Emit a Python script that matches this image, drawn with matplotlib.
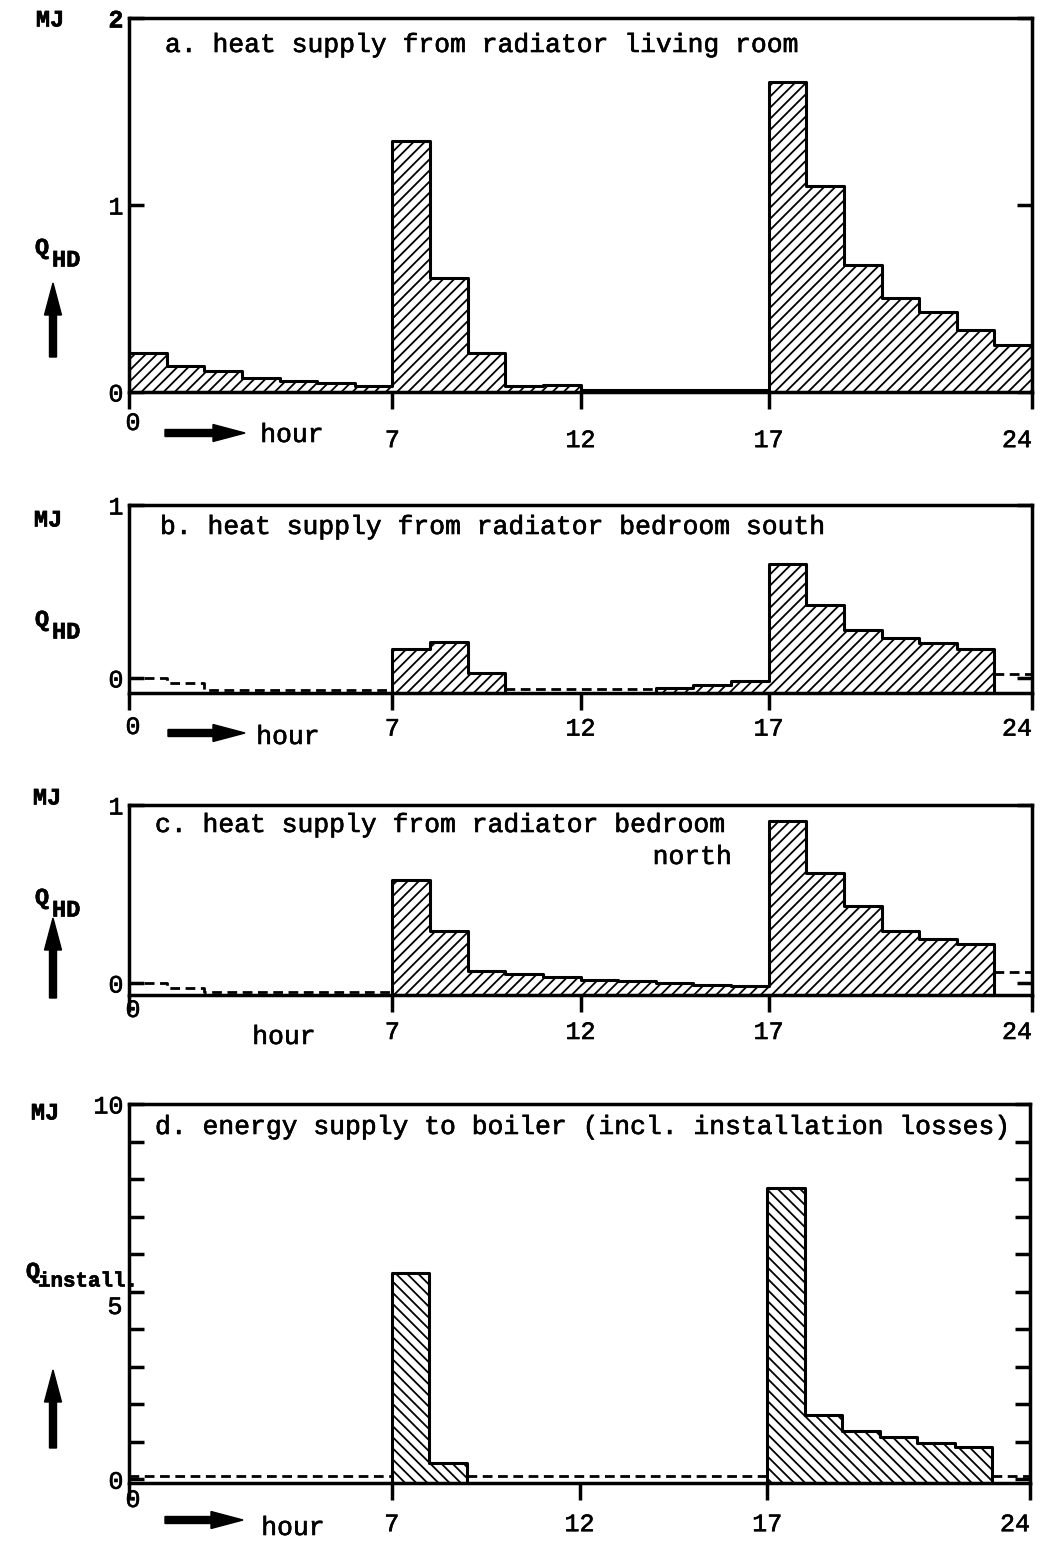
import numpy as np
import matplotlib.pyplot as plt
import matplotlib.patheffects as pe
from matplotlib.patches import FancyArrow

plt.rcParams['hatch.linewidth'] = 1.3
MONO = 'Liberation Mono'
INK = [pe.withStroke(linewidth=0.45, foreground='black')]

# hourly energy per hour of the day (MJ)
hours = np.arange(24)
living = [0.21, 0.14, 0.11, 0.075, 0.06, 0.05, 0.03, 1.34, 0.61, 0.21, 0.03, 0.04,
          0.01, 0.01, 0.01, 0.01, 0.01, 1.66, 1.10, 0.68, 0.50, 0.43, 0.33, 0.25]
south = [0.0, -0.03, -0.07, -0.07, -0.07, -0.07, -0.07, 0.17, 0.21, 0.03, -0.065, -0.065,
         -0.065, -0.065, -0.06, -0.04, -0.02, 0.66, 0.42, 0.28, 0.23, 0.20, 0.17, 0.02]
south_on = [0, 0, 0, 0, 0, 0, 0, 1, 1, 1, 0, 0, 0, 0, 1, 1, 1, 1, 1, 1, 1, 1, 1, 0]
north = [0.0, -0.03, -0.05, -0.05, -0.05, -0.05, -0.05, 0.58, 0.29, 0.07, 0.05, 0.035,
         0.02, 0.01, 0.0, -0.01, -0.015, 0.91, 0.62, 0.43, 0.29, 0.25, 0.22, 0.06]
north_on = [0, 0, 0, 0, 0, 0, 0, 1, 1, 1, 1, 1, 1, 1, 1, 1, 1, 1, 1, 1, 1, 1, 1, 0]
boiler = [0.08, 0.08, 0.08, 0.08, 0.08, 0.08, 0.08, 5.5, 0.43, 0.08, 0.08, 0.08,
          0.08, 0.08, 0.08, 0.08, 0.08, 7.76, 1.70, 1.28, 1.12, 0.96, 0.85, 0.08]
boiler_on = [0, 0, 0, 0, 0, 0, 0, 1, 1, 0, 0, 0, 0, 0, 0, 0, 0, 1, 1, 1, 1, 1, 1, 0]
xticks = [0, 7, 12, 17, 24]
xlabels = ['', '7', '12', '17', '24']

W, H = 1049, 1541
fig = plt.figure(figsize=(W / 100, H / 100), dpi=100)


def box(x0, y0, x1, y1):
    return [x0 / W, 1 - y1 / H, (x1 - x0) / W, (y1 - y0) / H]


def txt(x, y, s, size=18, **kw):
    kw.setdefault('ha', 'center')
    kw.setdefault('va', 'center')
    fig.text(x / W, 1 - y / H, s, fontsize=size, family=MONO, path_effects=INK, **kw)


def arrow(x0, y0, x1, y1):
    fig.add_artist(FancyArrow(x0 / 100, (H - y0) / 100, (x1 - x0) / 100, (y0 - y1) / 100,
                              width=0.07, head_width=0.17, head_length=0.32,
                              length_includes_head=True, color='black',
                              transform=fig.dpi_scale_trans))


def qlabel(x, y, sub):
    txt(x, y, 'Q', size=17, weight='bold')
    txt(x + 10, y + 12, sub, size=17, weight='bold', ha='left')


def panel(rect, vals, on, ymin, ymax, hatch, yticks, ylabels, pad):
    ax = fig.add_axes(box(*rect))
    vals = np.asarray(vals, float)
    on = np.asarray(on, int)
    # hatched blocks for the hours the radiator runs, outlined as one step shape
    edges = np.flatnonzero(np.diff(np.concatenate([[0], on, [0]]))).reshape(-1, 2)
    for s, e in edges:
        x = np.arange(s, e + 1)
        y = np.append(vals[s:e], vals[e - 1])
        ax.fill_between(x, ymin, y, step='post', facecolor='white', edgecolor='black',
                        hatch=hatch, linewidth=2.2, zorder=2)
    off = np.where(on > 0, np.nan, vals)
    ax.step(np.append(hours, 24), np.append(off, off[-1]), where='post',
            color='black', lw=2, ls=(0, (3.5, 2)), zorder=3)
    ax.set_xlim(0, 24)
    ax.set_ylim(ymin, ymax)
    for sp in ax.spines.values():
        sp.set_linewidth(2.5)
    ax.set_xticks(xticks, xlabels)
    ax.set_yticks(yticks, ylabels)
    ax.tick_params(axis='x', direction='out', length=12, width=2.5, labelsize=18, pad=pad)
    ax.tick_params(axis='y', direction='in', length=11, width=2.5, labelsize=18, pad=4,
                   left=True, right=True)
    for lab in ax.get_xticklabels() + ax.get_yticklabels():
        lab.set_family(MONO)
        lab.set_path_effects(INK)
    ax.get_xticklabels()[-1].set_ha('right')
    ax.get_xticklabels()[-1].set_x(24)
    return ax


# a. living room
ax = panel((129, 18, 1032, 392), living, [1] * 24, 0, 2, '///', [0, 1, 2], ['0', '1', '2'], 14)
ax.get_yticklabels()[-1].set_weight('bold')
txt(165, 45, 'a. heat supply from radiator living room', size=19, ha='left')
txt(50, 20, 'MJ', size=17, weight='bold')
qlabel(42, 248, 'HD')
arrow(53, 357, 53, 283)
arrow(165, 433, 245, 433)
txt(292, 435, 'hour', size=19)
txt(133, 423, '0')

# b. bedroom south
ax = panel((129, 505, 1032, 693), south, south_on, -0.087, 1, '///', [0, 1], ['0', '1'], 5)
txt(160, 527, 'b. heat supply from radiator bedroom south', size=19, ha='left')
txt(48, 520, 'MJ', size=17, weight='bold')
qlabel(42, 620, 'HD')
arrow(168, 733, 245, 733)
txt(288, 737, 'hour', size=19)
txt(133, 727, '0')

# c. bedroom north
ax = panel((129, 805, 1032, 995), north, north_on, -0.067, 1, '///', [0, 1], ['0', '1'], 6)
txt(155, 825, 'c. heat supply from radiator bedroom', size=19, ha='left')
txt(732, 857, 'north', size=19, ha='right')
txt(47, 798, 'MJ', size=17, weight='bold')
qlabel(42, 898, 'HD')
arrow(53, 998, 53, 918)
txt(284, 1037, 'hour', size=19)
txt(133, 1010, '0')

# d. boiler
ax = panel((129, 1104, 1030, 1483), boiler, boiler_on, -0.1, 10, '\\\\\\', list(range(11)),
           ['0', '', '', '', '', '', '', '', '', '', '10'], 9)
txt(155, 1127, 'd. energy supply to boiler (incl. installation losses)', size=19, ha='left')
txt(45, 1113, 'MJ', size=17, weight='bold')
txt(33, 1272, 'Q', size=17, weight='bold')
txt(38, 1281, 'install.', size=15, weight='bold', ha='left')
txt(115, 1307, '5')
arrow(53, 1448, 53, 1370)
arrow(165, 1520, 243, 1520)
txt(293, 1528, 'hour', size=19)
txt(133, 1500, '0')

fig.savefig('out.png', dpi=100)
